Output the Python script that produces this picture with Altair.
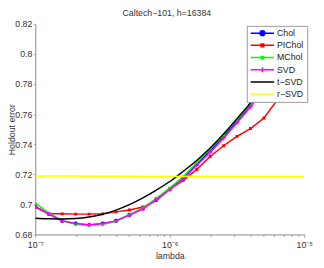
import altair as alt
import pandas as pd

# ---- data ----
lambdas = [1.0e-7, 1.259e-7, 1.585e-7, 1.995e-7, 2.512e-7, 3.162e-7, 3.981e-7, 5.012e-7, 6.310e-7, 7.943e-7,
           1.0e-6, 1.259e-6, 1.585e-6, 1.995e-6, 2.512e-6, 3.162e-6, 3.981e-6, 5.012e-6, 6.310e-6, 7.943e-6]

chol = [0.6984, 0.6937, 0.6890, 0.6872, 0.6863, 0.6872, 0.6890, 0.6930, 0.6972, 0.7035,
        0.7102, 0.7172, 0.7267, 0.7356, 0.7451, 0.7553, 0.7660, 0.7775, 0.7890]
pichol = [0.6984, 0.6938, 0.6937, 0.6935, 0.6935, 0.6937, 0.6950, 0.6963, 0.6982, 0.7025,
          0.7102, 0.7160, 0.7232, 0.7318, 0.7390, 0.7452, 0.7504, 0.7574, 0.7695, 0.7870]
mchol = [0.7008, 0.6942, 0.6893, 0.6868, 0.6857, 0.6866, 0.6888, 0.6930, 0.6976, 0.7040,
         0.7110, 0.7185, 0.7278, 0.7368, 0.7462, 0.7562, 0.7668, 0.7780, 0.7900]
svd = [0.6984, 0.6937, 0.6890, 0.6872, 0.6865, 0.6872, 0.6890, 0.6928, 0.6970, 0.7032,
       0.7098, 0.7168, 0.7260, 0.7345, 0.7440, 0.7542, 0.7648, 0.7760, 0.7880]
tsvd = [0.6908, 0.6904, 0.6903, 0.6906, 0.6916, 0.6934, 0.6962, 0.6998, 0.7043, 0.7095,
        0.7152, 0.7220, 0.7292, 0.7375, 0.7468, 0.7570, 0.7675, 0.7790, 0.7910]
rsvd_lambda = [1.0e-7, 1.0e-5]
rsvd = [0.7188, 0.7183]

series_names = ["Chol", "PIChol", "MChol", "SVD", "t\u2212SVD", "r\u2212SVD"]
series_colors = ["#0000ff", "#ff0000", "#00ff00", "#ff00ff", "#000000", "#ffff00"]
legend_paths = [
    "M-1,0H1M0.2,0A0.2,0.2,0,1,1,-0.2,0A0.2,0.2,0,1,1,0.2,0",
    "M-1,0H1M-0.12,-0.12H0.12V0.12H-0.12Z",
    "M-1,0H1M-0.1,-0.1H0.1V0.1H-0.1Z",
    "M-1,0H1M0,-0.22V0.22",
    "M-1,0H1",
    "M-1,0H1",
]

ytick_values = [0.68, 0.70, 0.72, 0.74, 0.76, 0.78, 0.80, 0.82]
xtick_exps = [-7, -6, -5]
xtick_labels = ["10\u207b\u2077", "10\u207b\u2076", "10\u207b\u2075"]
xtick_values = [m * 10.0 ** e for e in (-7, -6) for m in range(1, 10)] + [1e-5]

title_text = "Caltech\u2212101, h=16384"

rows = []
for name, vals, lams in [("Chol", chol, lambdas), ("PIChol", pichol, lambdas), ("MChol", mchol, lambdas),
                         ("SVD", svd, lambdas), ("t\u2212SVD", tsvd, lambdas), ("r\u2212SVD", rsvd, rsvd_lambda)]:
    for l, v in zip(lams, vals):
        rows.append({"series": name, "lam": l, "err": v})
df = pd.DataFrame(rows)

FONT = "Liberation Sans"
dec_test = "abs(log(datum.value)/LN10 - round(log(datum.value)/LN10)) < 0.001"
lab = "''"
for e, t in zip(reversed(xtick_exps), reversed(xtick_labels)):
    lab = f"(round(log(datum.value)/LN10) == {e} ? '{t}' : {lab})"
label_expr = f"{dec_test} ? {lab} : ''"

x_enc = alt.X("lam:Q",
              scale=alt.Scale(type="log", domain=[1e-7, 1e-5], nice=False),
              axis=alt.Axis(values=xtick_values, labelExpr=label_expr, grid=False,
                            title="lambda", titleFont=FONT, titleFontSize=9, titleFontWeight="normal",
                            titleColor="#333", titleBaseline="alphabetic", titleY=25,
                            labelFont=FONT, labelFontSize=9, labelColor="#333",
                            labelFlush=False, labelOverlap=False, labelPadding=3,
                            tickSize={"condition": {"test": dec_test, "value": 3}, "value": 2},
                            tickColor="#888", domainColor="#888", tickWidth=0.8))
y_enc = alt.Y("err:Q",
              scale=alt.Scale(domain=[0.68, 0.82], nice=False, zero=False),
              axis=alt.Axis(values=ytick_values, format=".2~f", grid=False,
                            title="Holdout error", titleFont=FONT, titleFontSize=9, titleFontWeight="normal",
                            titleColor="#333", titleX=-19, titleY=108,
                            labelFont=FONT, labelFontSize=9, labelColor="#333",
                            labelFlush=False, labelOverlap=False, labelPadding=1.5,
                            tickSize=2, tickColor="#888", domainColor="#888", tickWidth=0.8))

base = alt.Chart(df)

marker_style = {
    "Chol": dict(shape="circle", filled=True, size=18, strokeWidth=0.5),
    "PIChol": dict(shape="square", filled=True, size=9, strokeWidth=0),
    "MChol": dict(shape="square", filled=True, size=6, strokeWidth=0),
    "SVD": dict(shape="M-1,0H1M0,-1V1", filled=False, size=20, strokeWidth=1),
}

layers = []
for name, color in zip(series_names, series_colors):
    sub = base.transform_filter(alt.datum.series == name)
    interp = "monotone" if name == "t\u2212SVD" else "linear"
    layers.append(sub.mark_line(color=color, strokeWidth=1.5, clip=True, interpolate=interp)
                  .encode(x=x_enc, y=y_enc))
    if name in marker_style:
        layers.append(sub.mark_point(color=color, opacity=1, clip=True, **marker_style[name])
                      .encode(x=x_enc, y=y_enc))

leg = alt.Legend(title=None, orient="none", legendX=217, legendY=2, padding=3,
                 fillColor="white", strokeColor="#999",
                 symbolSize=576, symbolStrokeWidth=1.5, clipHeight=9, rowPadding=2.5,
                 labelOffset=2, labelFontSize=9, labelFont=FONT, labelColor="#222", symbolOffset=0)

legend_layer = base.mark_point(filled=True, opacity=1).encode(
    x=x_enc, y=y_enc,
    fill=alt.Fill("series:N", scale=alt.Scale(domain=series_names, range=series_colors), legend=leg),
    stroke=alt.Stroke("series:N", scale=alt.Scale(domain=series_names, range=series_colors), legend=leg),
    shape=alt.Shape("series:N", scale=alt.Scale(domain=series_names, range=legend_paths), legend=leg),
).transform_filter("false")

chart = alt.layer(*layers, legend_layer).properties(
    width=276, height=216,
    autosize=alt.AutoSizeParams(type="none"),
    padding={"left": 28, "top": 13, "right": 12, "bottom": 27},
    title=alt.TitleParams(title_text, fontSize=9, fontWeight="normal", font=FONT, color="#333",
                          offset=6, baseline="alphabetic", frame="group", dx=-3, dy=11),
).configure_view(strokeWidth=0)

chart.save("out.html", embed_options={"renderer": "svg", "actions": False})
